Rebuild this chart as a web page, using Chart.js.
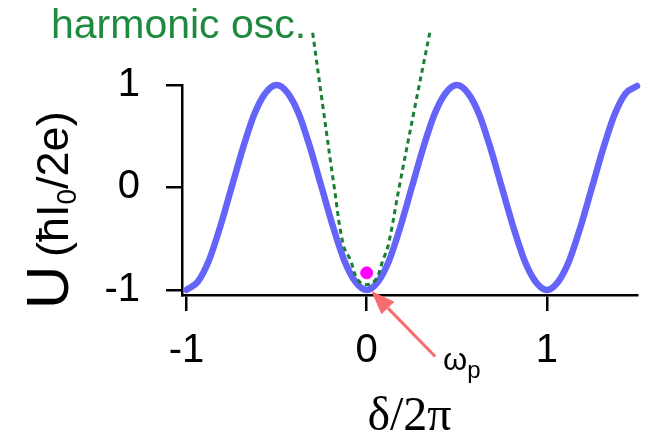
<!DOCTYPE html>
<html>
<head>
<meta charset="utf-8">
<script src="https://cdn.jsdelivr.net/npm/chart.js@4.4.0/dist/chart.umd.min.js"></script>
<style>
    html, body { margin: 0; padding: 0; background: #fff; }
    #wrap { width: 648px; height: 437px; }
</style>
</head>
<body>
<div id="wrap"><canvas id="potentialChart" width="648" height="437"></canvas></div>
<script>
// phase delta/2pi and the Josephson potential U
const deltaVals = [-1, -0.9375, -0.875, -0.8125, -0.75, -0.6875, -0.625, -0.5625,
    -0.5, -0.4375, -0.375, -0.3125, -0.25, -0.1875, -0.125, -0.0625,
    0, 0.0625, 0.125, 0.1875, 0.25, 0.3125, 0.375, 0.4375,
    0.5, 0.5625, 0.625, 0.6875, 0.75, 0.8125, 0.875, 0.9375,
    1, 1.0625, 1.125, 1.1875, 1.25, 1.3125, 1.375, 1.4375, 1.5];
const potentialVals = [-1, -0.92, -0.71, -0.38, 0, 0.38, 0.71, 0.92,
    1, 0.92, 0.71, 0.38, 0, -0.38, -0.71, -0.92,
    -1, -0.92, -0.71, -0.38, 0, 0.38, 0.71, 0.92,
    1, 0.92, 0.71, 0.38, 0, -0.38, -0.71, -0.92,
    -1, -0.92, -0.71, -0.38, 0, 0.38, 0.71, 0.92, 0.99];

// harmonic approximation (dotted green)
const harmonicX = [-0.30, -0.24, -0.18, -0.13, -0.09, -0.05, 0, 0.05, 0.09, 0.12, 0.18, 0.26, 0.35];
const harmonicY = [1.51, 0.75, 0, -0.56, -0.71, -0.9, -0.95, -0.9, -0.71, -0.56, 0, 0.72, 1.51];

// ground level marker
const levelX = [0];
const levelY = [-0.834];

const xTicks = [-1, 0, 1];
const yTicks = [-1, 0, 1];

const SANS = "'Liberation Sans', Arial, sans-serif";

// text and arrow that sit around the plot
const annotations = {
    id: 'annotations',
    afterDatasetsDraw(chart) {
        const { ctx, scales: { x, y } } = chart;
        ctx.save();

        // arrow to the bottom of the well
        const tipX = x.getPixelForValue(0.025), tipY = y.getPixelForValue(-1.01);
        const tailX = x.getPixelForValue(0.38), tailY = y.getPixelForValue(-1.65);
        const ang = Math.atan2(tipY - tailY, tipX - tailX);
        const headLen = 24, headW = 9;
        const baseX = tipX - headLen * Math.cos(ang), baseY = tipY - headLen * Math.sin(ang);
        ctx.strokeStyle = '#f76d6d';
        ctx.fillStyle = '#f76d6d';
        ctx.lineWidth = 3;
        ctx.beginPath();
        ctx.moveTo(tailX, tailY);
        ctx.lineTo(baseX, baseY);
        ctx.stroke();
        ctx.beginPath();
        ctx.moveTo(tipX, tipY);
        ctx.lineTo(baseX + headW * Math.sin(ang), baseY - headW * Math.cos(ang));
        ctx.lineTo(baseX - headW * Math.sin(ang), baseY + headW * Math.cos(ang));
        ctx.closePath();
        ctx.fill();

        // omega_p label
        ctx.fillStyle = '#000';
        ctx.textBaseline = 'alphabetic';
        ctx.textAlign = 'left';
        ctx.font = '31px ' + SANS;
        ctx.fillText('ω', 443, 370);
        const wW = ctx.measureText('ω').width;
        ctx.font = '24px ' + SANS;
        ctx.fillText('p', 443 + wW, 378);

        // harmonic osc. label
        ctx.fillStyle = '#1f8a3f';
        ctx.font = '41px ' + SANS;
        ctx.fillText('harmonic osc.', 51, 38);

        // y axis title, rotated
        ctx.fillStyle = '#000';
        ctx.translate(68, 309);
        ctx.rotate(-Math.PI / 2);
        ctx.font = '60px ' + SANS;
        ctx.fillText('U', 0, 0);
        let pos = 52;
        ctx.font = '45px ' + SANS;
        ctx.fillText('(ħI', pos, 0);
        pos += ctx.measureText('(ħI').width;
        ctx.font = '28px ' + SANS;
        ctx.fillText('0', pos, 8);
        pos += ctx.measureText('0').width;
        ctx.font = '45px ' + SANS;
        ctx.fillText('/2e)', pos, 0);

        ctx.restore();
    }
};

const ctx = document.getElementById('potentialChart');

new Chart(ctx, {
    type: 'line',
    data: {
        datasets: [{
            label: 'level',
            type: 'scatter',
            data: levelX.map((v, i) => ({ x: v, y: levelY[i] })),
            pointBackgroundColor: '#ff00ff',
            pointBorderColor: '#ff00ff',
            pointRadius: 6,
            order: 0
        }, {
            label: 'harmonic osc.',
            data: harmonicX.map((v, i) => ({ x: v, y: harmonicY[i] })),
            borderColor: '#1a7f36',
            borderWidth: 3,
            borderDash: [5, 4],
            pointRadius: 0,
            tension: 0.4,
            clip: false,
            order: 1
        }, {
            label: 'U',
            data: deltaVals.map((v, i) => ({ x: v, y: potentialVals[i] })),
            borderColor: '#6464fa',
            borderWidth: 6.5,
            borderCapStyle: 'round',
            pointRadius: 0,
            cubicInterpolationMode: 'monotone',
            clip: false,
            order: 2
        }]
    },
    options: {
        responsive: false,
        animation: false,
        layout: { padding: { top: 85, right: 11, bottom: 0, left: 0 } },
        plugins: {
            legend: { display: false },
            tooltip: { enabled: false }
        },
        scales: {
            x: {
                type: 'linear',
                min: -1.025,
                max: 1.5,
                afterBuildTicks: s => { s.ticks = xTicks.map(v => ({ value: v })); },
                afterFit: s => { s.height = 142; },
                border: { display: true, color: '#000', width: 2.5 },
                grid: { display: true, drawOnChartArea: false, drawTicks: true, tickLength: 16, color: '#000', lineWidth: 2.5 },
                ticks: { color: '#000', padding: 16, font: { family: SANS, size: 40 } },
                title: {
                    display: true,
                    text: 'δ/2π',
                    color: '#000',
                    padding: { top: 0, bottom: 0 },
                    font: { family: "'Liberation Serif', 'Times New Roman', serif", size: 48, lineHeight: 0.82 }
                }
            },
            y: {
                type: 'linear',
                min: -1.05,
                max: 1,
                afterBuildTicks: s => { s.ticks = yTicks.map(v => ({ value: v })); },
                afterFit: s => { s.width = 182; },
                border: { display: true, color: '#000', width: 2.5 },
                grid: { display: true, drawOnChartArea: false, drawTicks: true, tickLength: 16, color: '#000', lineWidth: 2.5 },
                ticks: { color: '#000', padding: 26, font: { family: SANS, size: 40 } }
            }
        }
    },
    plugins: [annotations]
});
</script>
</body>
</html>
